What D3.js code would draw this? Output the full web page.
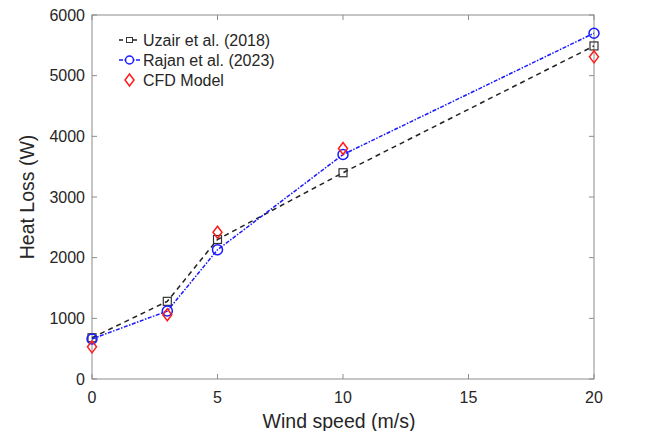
<!DOCTYPE html>
<html>
<head>
<meta charset="utf-8">
<script src="https://cdn.jsdelivr.net/npm/d3@7"></script>
<style>
  body { margin: 0; background: #fff; }
  svg { font-family: "Liberation Sans", Arial, sans-serif; }
</style>
</head>
<body>
<svg id="chart" width="660" height="431"></svg>
<script>
// wind speed (m/s)
var windSpeed = [0, 3, 5, 10, 20];
var uzair = [680, 1280, 2300, 3400, 5490];
var rajan = [660, 1120, 2130, 3700, 5700];
var cfd = [530, 1060, 2420, 3800, 5310];
var xTicks = [0, 5, 10, 15, 20];
var yTicks = [0, 1000, 2000, 3000, 4000, 5000, 6000];

var margin = { top: 15, right: 66, bottom: 52, left: 92 };
var width = 660 - margin.left - margin.right;
var height = 431 - margin.top - margin.bottom;

var svg = d3.select("#chart");
var g = svg.append("g").attr("transform", "translate(" + margin.left + "," + margin.top + ")");

var x = d3.scaleLinear().domain([0, 20]).range([0, width]);
var y = d3.scaleLinear().domain([0, 6000]).range([height, 0]);

var axisColor = "#8c8c8c";
var textColor = "#262626";

// box
g.append("rect")
    .attr("width", width)
    .attr("height", height)
    .attr("fill", "none")
    .attr("stroke", axisColor)
    .attr("stroke-width", 1);

// inner ticks (bottom, top, left, right)
var tickLen = 5;
xTicks.forEach(function (t) {
    g.append("line").attr("x1", x(t)).attr("x2", x(t)).attr("y1", height).attr("y2", height - tickLen).attr("stroke", axisColor);
    g.append("line").attr("x1", x(t)).attr("x2", x(t)).attr("y1", 0).attr("y2", tickLen).attr("stroke", axisColor);
    g.append("text")
        .attr("x", x(t)).attr("y", height + 24)
        .attr("text-anchor", "middle")
        .attr("font-size", 16)
        .attr("fill", textColor)
        .text(t);
});
yTicks.forEach(function (t) {
    g.append("line").attr("x1", 0).attr("x2", tickLen).attr("y1", y(t)).attr("y2", y(t)).attr("stroke", axisColor);
    g.append("line").attr("x1", width).attr("x2", width - tickLen).attr("y1", y(t)).attr("y2", y(t)).attr("stroke", axisColor);
    g.append("text")
        .attr("x", -7).attr("y", y(t))
        .attr("dy", "0.35em")
        .attr("text-anchor", "end")
        .attr("font-size", 16)
        .attr("fill", textColor)
        .text(t);
});

// axis labels
g.append("text")
    .attr("x", width / 2 - 4).attr("y", height + 49)
    .attr("text-anchor", "middle")
    .attr("font-size", 19.5)
    .attr("fill", textColor)
    .text("Wind speed (m/s)");
g.append("text")
    .attr("transform", "translate(-58," + (height / 2) + ") rotate(-90)")
    .attr("text-anchor", "middle")
    .attr("font-size", 19.5)
    .attr("fill", textColor)
    .text("Heat Loss (W)");

var line = d3.line()
    .x(function (d, i) { return x(windSpeed[i]); })
    .y(function (d) { return y(d); });

// Uzair - black dashed with squares
g.append("path")
    .datum(uzair)
    .attr("d", line)
    .attr("fill", "none")
    .attr("stroke", "#222")
    .attr("stroke-width", 1.5)
    .attr("stroke-dasharray", "5,4");
g.selectAll(".sq").data(uzair).enter().append("rect")
    .attr("x", function (d, i) { return x(windSpeed[i]) - 4; })
    .attr("y", function (d) { return y(d) - 4; })
    .attr("width", 8).attr("height", 8)
    .attr("fill", "none").attr("stroke", "#333").attr("stroke-width", 1.2);

// Rajan - blue dash-dot with circles
g.append("path")
    .datum(rajan)
    .attr("d", line)
    .attr("fill", "none")
    .attr("stroke", "#1a1aff")
    .attr("stroke-width", 1.5)
    .attr("stroke-dasharray", "4,1.5,1.5,1.5");
g.selectAll(".ci").data(rajan).enter().append("circle")
    .attr("cx", function (d, i) { return x(windSpeed[i]); })
    .attr("cy", function (d) { return y(d); })
    .attr("r", 5)
    .attr("fill", "none").attr("stroke", "#1a1aff").attr("stroke-width", 1.5);

// CFD - red diamonds
var diamond = function (cx, cy) {
    return "M" + cx + "," + (cy - 6) + "L" + (cx + 4.5) + "," + cy + "L" + cx + "," + (cy + 6) + "L" + (cx - 4.5) + "," + cy + "Z";
};
g.selectAll(".di").data(cfd).enter().append("path")
    .attr("d", function (d, i) { return diamond(x(windSpeed[i]), y(d)); })
    .attr("fill", "none").attr("stroke", "#ff1a1a").attr("stroke-width", 1.5);

// legend
var lg = svg.append("g");
var rows = [
    { name: "Uzair et al. (2018)", y: 40 },
    { name: "Rajan et al. (2023)", y: 60 },
    { name: "CFD Model", y: 80 }
];
lg.append("line").attr("x1", 119).attr("x2", 140).attr("y1", 40).attr("y2", 40)
    .attr("stroke", "#222").attr("stroke-width", 1.5).attr("stroke-dasharray", "4,3");
lg.append("rect").attr("x", 126.5).attr("y", 37.5).attr("width", 6).attr("height", 5)
    .attr("fill", "#fff").attr("stroke", "#333");
lg.append("line").attr("x1", 119).attr("x2", 140).attr("y1", 60).attr("y2", 60)
    .attr("stroke", "#1a1aff").attr("stroke-width", 1.5).attr("stroke-dasharray", "4,1.5,1.5,1.5");
lg.append("circle").attr("cx", 129.5).attr("cy", 60).attr("r", 4)
    .attr("fill", "#fff").attr("stroke", "#1a1aff").attr("stroke-width", 1.5);
lg.append("path").attr("d", diamond(129.5, 80))
    .attr("fill", "none").attr("stroke", "#ff1a1a").attr("stroke-width", 1.5);
rows.forEach(function (r) {
    lg.append("text")
        .attr("x", 143).attr("y", r.y)
        .attr("dy", "0.35em")
        .attr("font-size", 16)
        .attr("fill", textColor)
        .text(r.name);
});
</script>
</body>
</html>
